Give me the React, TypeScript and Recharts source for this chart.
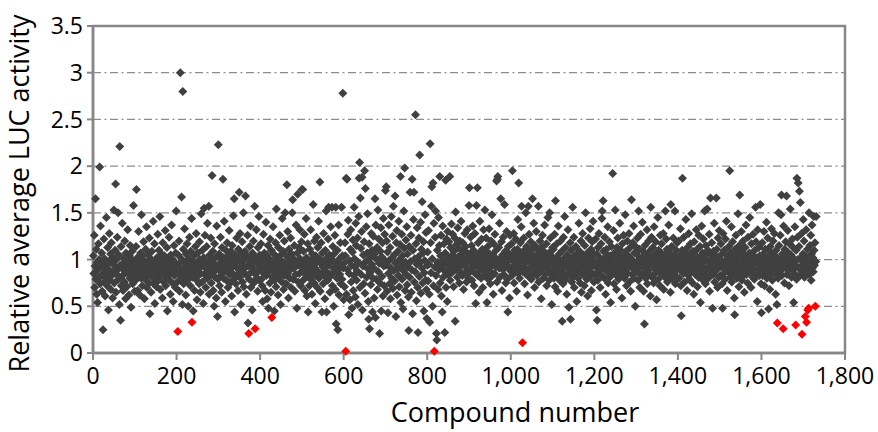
import {
  CartesianGrid,
  ReferenceArea,
  Scatter,
  ScatterChart,
  XAxis,
  YAxis,
} from "recharts";

// Relative average LUC activity per compound, in % of control (100 = 1.0).
// Each block starts at the compound number given in BLOCKS; null = compound shown in red.
const lucA = [
  104, 85, 126, 70, 93, 165, 79, 111, 63, 97,
  54, 89, 117, 81, 100, 199, 74, 136, 92, 83,
  107, 66, 96, 25, 85, 122, 76, 101, 61, 91,
  80, 145, 94, 72, 113, 84, 46, 98, 128, 78,
  88, 106, 68, 118, 83, 97, 59, 102, 87, 153,
  75, 93, 110, 181, 65, 100, 84, 124, 89, 150,
  79, 105, 52, 221, 94, 35, 114, 72, 91, 139,
  83, 67, 101, 96, 76, 120, 87, 58, 107, 92,
  71, 98, 132, 85, 89, 62, 104, 80, 115, 94,
  49, 84, 100, 109, 74, 91, 158, 81, 97, 66,
];
const lucB = [
  96, 78, 114, 175, 87, 102, 67, 92, 130, 83,
  100, 62, 89, 107, 80, 148, 94, 72, 104, 85,
  119, 91, 58, 98, 79, 111, 88, 135, 70, 97,
  84, 105, 93, 75, 123, 42, 92, 101, 65, 87,
  109, 81, 96, 141, 74, 89, 117, 53, 98, 80,
  92, 71, 102, 85, 127, 94, 78, 110, 88, 146,
  68, 100, 83, 106, 91, 59, 118, 97, 76, 93,
  104, 87, 131, 72, 96, 81, 113, 45, 89, 101,
  79, 124, 93, 84, 63, 105, 88, 137, 96, 75,
  100, 55, 91, 115, 83, 97, 70, 107, 152, 87,
];
const lucC = [
  93, 76, null, 105, 85, 120, 66, 96, 300, 88,
  80, 167, 100, 52, 280, 111, 74, 91, 133, 83,
  97, 62, 106, 87, 117, 78, 94, 50, 101, 84,
  124, 89, 72, 109, 92, 144, null, 81, 98, 45,
  85, 104, 67, 94, 114, 79, 128, 88, 57, 97,
  107, 83, 92, 74, 119, 100, 65, 85, 149, 93,
  76, 110, 96, 53, 102, 155, 84, 126, 91, 70,
  98, 114, 80, 139, 87, 94, 157, 63, 105, 83,
  92, 123, 75, 100, 190, 85, 109, 67, 96, 50,
  117, 81, 102, 89, 59, 136, 93, 39, 79, 223,
];
const lucD = [
  89, 106, 72, 96, 124, 83, 100, 65, 113, 92,
  186, 80, 102, 141, 87, 94, 55, 110, 78, 98,
  118, 88, 70, 104, 93, 131, 84, 97, 75, 109,
  91, 61, 115, 85, 100, 147, 79, 165, 44, 96,
  105, 74, 92, 123, 84, 101, 67, 111, 89, 172,
  81, 128, 97, 52, 106, 88, 119, 76, 94, 150,
  71, 100, 85, 109, 168, 92, 63, 104, 83, 126,
  32, 93, null, 79, 114, 97, 136, 70, 101, 87,
  46, 107, 91, 120, 75, 98, 157, null, 84, 102,
  132, 80, 96, 66, 113, 88, 146, 78, 105, 93,
];
const lucE = [
  97, 117, 79, 102, 72, 55, 93, 127, 85, 107,
  89, 67, 100, 140, 83, 105, 58, 94, 115, 48,
  87, 101, 75, 122, 92, 65, 110, null, 81, 98,
  135, 88, 106, 45, 78, 96, 118, 71, 154, 91,
  84, 102, 62, 113, 94, 80, 126, 89, 52, 105,
  98, 76, 144, 87, 109, 68, 97, 120, 83, 150,
  92, 74, 104, 180, 85, 130, 96, 59, 111, 88,
  80, 100, 123, 70, 94, 106, 150, 164, 79, 101,
  91, 115, 66, 97, 84, 137, 93, 48, 107, 170,
  76, 96, 113, 85, 132, 101, 72, 92, 119, 175,
];
const lucF = [
  94, 175, 78, 109, 89, 127, 67, 98, 84, 144,
  102, 61, 92, 117, 44, 81, 97, 72, 111, 88,
  132, 79, 100, 63, 106, 85, 159, 94, 75, 120,
  91, 53, 104, 83, 124, 97, 70, 113, 87, 141,
  80, 101, 183, 66, 96, 118, 84, 44, 107, 92,
  74, 128, 88, 98, 58, 110, 81, 152, 44, 102,
  93, 78, 122, 156, 85, 105, 65, 97, 135, 83,
  100, 156, 72, 114, 91, 50, 106, 87, 126, 68,
  156, 31, 96, 80, 110, 25, 89, 137, 62, 101,
  84, 118, 74, 94, 156, 79, 104, 278, 91, 57,
];
const lucG = [
  96, 71, 118, 104, null, 187, 63, 186, 89, 127,
  142, 41, 85, 99, 57, 111, 132, 76, 94, 48,
  108, 121, 67, 83, 156, 101, 92, 60, 139, 115,
  78, 88, 123, 52, 97, 146, 187, 204, 70, 166,
  112, 84, 130, 188, 46, 93, 105, 74, 119, 195,
  64, 176, 98, 135, 81, 107, 149, 90, 55, 36,
  117, 26, 86, 102, 73, 128, 95, 110, 44, 80,
  125, 91, 59, 106, 165, 38, 137, 79, 100, 113,
  68, 153, 87, 122, 96, 21, 75, 109, 134, 45,
  103, 82, 118, 61, 144, 93, 72, 127, 99, 174,
];
const lucH = [
  94, 178, 120, 66, 108, 43, 85, 137, 99, 74,
  113, 58, 91, 146, 80, 102, 125, 69, 157, 88,
  105, 77, 168, 96, 39, 118, 131, 62, 90, 109,
  83, 141, 71, 100, 116, 189, 54, 93, 127, 79,
  104, 47, 88, 152, 112, 198, 67, 97, 121, 84,
  135, 73, 106, 92, 60, 24, 114, 81, 172, 98,
  126, 65, 89, 186, 42, 110, 143, 172, 76, 101,
  87, 255, 117, 56, 95, 134, 70, 22, 103, 123,
  82, 212, 97, 140, 64, 111, 91, 162, 75, 107,
  119, 45, 86, 99, 148, 78, 129, 68, 37, 94,
];
const lucI = [
  108, 77, 131, 95, 63, 33, 224, 118, 86, 157,
  178, 101, 50, 182, 72, 139, null, 92, 124, 152,
  83, 21, 14, 110, 97, 68, 145, 89, 115, 189,
  75, 104, 126, 61, 93, 44, 136, 81, 99, 117,
  88, 22, 107, 185, 70, 122, 96, 55, 130, 84,
  102, 119, 91, 189, 78, 113, 98, 138, 86, 105,
  127, 94, 71, 109, 100, 123, 34, 151, 89, 116,
  97, 81, 134, 103, 92, 112, 75, 120, 99, 87,
  141, 95, 106, 83, 118, 101, 68, 110, 93, 128,
  85, 114, 97, 76, 107, 132, 90, 102, 80, 158,
];
const lucJ = [
  177, 106, 87, 124, 96, 115, 78, 101, 136, 92,
  110, 72, 100, 128, 85, 53, 105, 158, 93, 177,
  83, 118, 97, 65, 107, 141, 89, 101, 80, 122,
  94, 111, 70, 104, 132, 87, 98, 153, 84, 109,
  123, 91, 54, 102, 114, 79, 97, 133, 88, 106,
  74, 100, 120, 93, 148, 83, 105, 63, 117, 96,
  85, 127, 102, 92, 110, 184, 76, 186, 189, 98,
  113, 91, 139, 81, 101, 165, 96, 119, 67, 105,
  89, 124, 84, 100, 159, 93, 109, 75, 104, 130,
  97, 79, 44, 114, 92, 106, 59, 126, 88, 102,
];
const lucK = [
  100, 117, 83, 195, 105, 93, 128, 75, 110, 97,
  88, 122, 102, 66, 94, 111, 143, 85, 182, 106,
  80, 98, 118, 91, 135, 157, 101, null, 87, 109,
  123, 92, 74, 104, 96, 150, 84, 114, 100, 62,
  107, 157, 89, 127, 81, 102, 97, 119, 79, 111,
  93, 165, 105, 85, 139, 96, 70, 115, 101, 88,
  130, 83, 98, 110, 92, 157, 76, 106, 94, 120,
  87, 102, 58, 113, 97, 126, 91, 80, 109, 101,
  137, 94, 84, 105, 117, 72, 100, 93, 145, 89,
  107, 78, 150, 98, 123, 85, 104, 52, 96, 113,
];
const lucL = [
  89, 111, 80, 100, 127, 71, 163, 94, 84, 117,
  102, 66, 93, 136, 87, 106, 78, 97, 120, 88,
  83, 109, 34, 92, 74, 124, 101, 85, 146, 96,
  113, 79, 98, 63, 105, 91, 132, 84, 49, 102,
  94, 118, 36, 88, 110, 76, 100, 156, 81, 97,
  124, 70, 104, 92, 85, 114, 96, 55, 106, 87,
  80, 100, 139, 89, 109, 75, 97, 120, 65, 102,
  93, 128, 84, 105, 98, 72, 115, 91, 150, 83,
  101, 79, 107, 61, 96, 123, 88, 104, 81, 133,
  92, 111, 67, 100, 119, 85, 141, 94, 76, 106,
];
const lucM = [
  98, 84, 122, 92, 46, 106, 35, 78, 113, 94,
  128, 88, 102, 70, 97, 117, 83, 144, 152, 100,
  163, 109, 91, 80, 124, 101, 63, 94, 111, 87,
  105, 135, 75, 97, 89, 119, 81, 104, 54, 96,
  114, 85, 100, 192, 93, 131, 74, 107, 91, 153,
  84, 102, 68, 113, 96, 123, 88, 79, 106, 98,
  139, 92, 110, 83, 101, 59, 117, 94, 87, 126,
  97, 80, 105, 148, 89, 109, 72, 100, 120, 85,
  104, 93, 128, 76, 96, 113, 66, 101, 164, 91,
  84, 118, 98, 136, 80, 107, 92, 50, 114, 96,
];
const lucN = [
  106, 87, 123, 94, 78, 152, 100, 111, 70, 92,
  127, 83, 102, 97, 140, 85, 109, 66, 93, 31,
  115, 91, 80, 105, 98, 132, 74, 101, 88, 120,
  84, 109, 94, 61, 156, 102, 124, 81, 97, 113,
  92, 75, 135, 100, 85, 106, 119, 89, 57, 104,
  96, 145, 79, 110, 93, 101, 72, 126, 87, 107,
  117, 84, 98, 91, 128, 68, 105, 96, 81, 152,
  100, 122, 88, 111, 76, 102, 92, 137, 83, 97,
  107, 65, 159, 93, 114, 87, 101, 79, 123, 94,
  85, 104, 152, 74, 97, 110, 89, 118, 80, 100,
];
const lucO = [
  96, 120, 80, 104, 89, 133, 72, 40, 101, 110,
  187, 92, 85, 124, 97, 76, 107, 94, 143, 88,
  102, 67, 113, 93, 83, 128, 100, 79, 106, 117,
  87, 97, 149, 91, 75, 109, 101, 63, 119, 94,
  105, 84, 98, 132, 89, 111, 71, 96, 81, 126,
  92, 102, 114, 54, 100, 85, 136, 93, 107, 78,
  122, 97, 88, 152, 105, 74, 115, 83, 101, 154,
  91, 110, 80, 98, 127, 66, 94, 166, 106, 87,
  118, 100, 48, 84, 109, 92, 139, 76, 97, 104,
  88, 166, 111, 94, 70, 123, 101, 81, 131, 93,
];
const lucP = [
  100, 83, 117, 92, 106, 74, 48, 128, 94, 85,
  110, 97, 79, 122, 89, 141, 101, 67, 104, 93,
  87, 114, 96, 195, 81, 107, 91, 135, 76, 100,
  119, 84, 102, 94, 59, 41, 111, 88, 126, 97,
  80, 105, 92, 149, 100, 71, 115, 169, 85, 109,
  96, 130, 78, 101, 89, 120, 83, 106, 65, 98,
  113, 92, 137, 84, 102, 94, 75, 124, 97, 88,
  107, 145, 87, 100, 70, 117, 93, 105, 81, 127,
  91, 101, 79, 110, 96, 156, 119, 85, 102, 55,
  132, 97, 88, 113, 83, 104, 159, 92, 74, 43,
];
const lucQ = [
  97, 118, 83, 106, 91, 130, 72, 101, 111, 87,
  94, 140, 80, 102, 123, 89, 47, 98, 109, 68,
  114, 93, 84, 133, 100, 78, 105, 120, 88, 96,
  128, 85, 104, 63, 110, 92, 52, null, 98, 80,
  150, 115, 94, 87, 126, 101, 148, 169, 83, 106,
  91, null, 136, 97, 75, 111, 93, 119, 102, 168,
  84, 100, 131, 88, 107, 72, 117, 96, 154, 92,
  105, 81, 97, 122, 89, 113, 54, 101, 85, 135,
  94, null, 110, 79, 187, 124, 100, 182, 91, 114,
  173, 83, 161, 102, 93, 128, null, 87, 106, 143,
];
const lucR = [
  97, 120, 81, 104, null, 92, 132, null, 88, 111,
  null, 100, null, 150, 84, 115, 96, 126, 78, 106,
  137, 91, 102, 87, 146, 110, 94, 118, null, 98,
  146,
];

const BLOCKS: [number, (number | null)[]][] = [
  [1, lucA], [101, lucB], [201, lucC], [301, lucD], [401, lucE], [501, lucF],
  [601, lucG], [701, lucH], [801, lucI], [901, lucJ], [1001, lucK], [1101, lucL],
  [1201, lucM], [1301, lucN], [1401, lucO], [1501, lucP], [1601, lucQ], [1701, lucR],
];

// highlighted compounds (red)
const hitCompounds = [203, 237, 373, 388, 428, 605, 817, 1028, 1638, 1652, 1682, 1697, 1705, 1708, 1711, 1713, 1729];
const hitActivity = [0.23, 0.33, 0.21, 0.26, 0.38, 0.02, 0.02, 0.11, 0.32, 0.26, 0.3, 0.2, 0.39, 0.33, 0.46, 0.48, 0.5];

const X_TICKS = [0, 200, 400, 600, 800, 1000, 1200, 1400, 1600, 1800];
const Y_TICKS = [0, 0.5, 1, 1.5, 2, 2.5, 3, 3.5];

const FONT = "'Open Sans', sans-serif";
const AXIS_GREY = "#878787";

const allPoints = BLOCKS.flatMap(([start, vals]) =>
  vals.flatMap((v, i) => (v == null ? [] : [{ compound: start + i, activity: v / 100 }]))
);
const hitPoints = hitCompounds.map((c, i) => ({ compound: c, activity: hitActivity[i] }));

function Diamond(props: any) {
  const { cx, cy, fill } = props;
  if (cx == null || cy == null) return null;
  const r = 4.5;
  return <path d={`M${cx},${cy - r}L${cx + r},${cy}L${cx},${cy + r}L${cx - r},${cy}Z`} fill={fill} />;
}

export default function App() {
  return (
    <div style={{ width: 878, height: 432, background: "#fff" }}>
      <style>{"body{margin:0}"}</style>
      <ScatterChart width={878} height={432} margin={{ top: 26, right: 33, bottom: 0, left: 0 }}>
        <CartesianGrid
          vertical={false}
          stroke="#8c8c8c"
          strokeWidth={1.3}
          strokeDasharray="8 3.5 2 3.5"
        />
        <XAxis
          type="number"
          dataKey="compound"
          domain={[0, 1800]}
          ticks={X_TICKS}
          height={79}
          tickSize={7}
          tickMargin={8}
          axisLine={{ stroke: AXIS_GREY, strokeWidth: 2.5 }}
          tickLine={{ stroke: AXIS_GREY, strokeWidth: 2 }}
          tick={{ fill: "#000", fontSize: 23, fontFamily: FONT }}
          tickFormatter={(v: number) => v.toLocaleString("en-US")}
          label={{
            value: "Compound number",
            position: "insideBottom",
            offset: 10,
            dx: 46,
            style: { fill: "#000", fontSize: 27, fontFamily: FONT },
          }}
        />
        <YAxis
          type="number"
          dataKey="activity"
          domain={[0, 3.5]}
          ticks={Y_TICKS}
          width={93}
          tickSize={6}
          tickMargin={4}
          axisLine={{ stroke: AXIS_GREY, strokeWidth: 2.5 }}
          tickLine={{ stroke: AXIS_GREY, strokeWidth: 2 }}
          tick={{ fill: "#000", fontSize: 23, fontFamily: FONT }}
          label={{
            value: "Relative average LUC activity",
            angle: -90,
            position: "insideLeft",
            offset: 19,
            dy: 4,
            style: { fill: "#000", fontSize: 27, fontFamily: FONT, textAnchor: "middle" },
          }}
        />
        <ReferenceArea
          x1={0}
          x2={1800}
          y1={0}
          y2={3.5}
          fill="none"
          stroke={AXIS_GREY}
          strokeWidth={2.5}
          ifOverflow="visible"
        />
        <Scatter data={allPoints} fill="#404040" shape={Diamond} isAnimationActive={false} />
        <Scatter data={hitPoints} fill="#ff0000" shape={Diamond} isAnimationActive={false} />
      </ScatterChart>
    </div>
  );
}
